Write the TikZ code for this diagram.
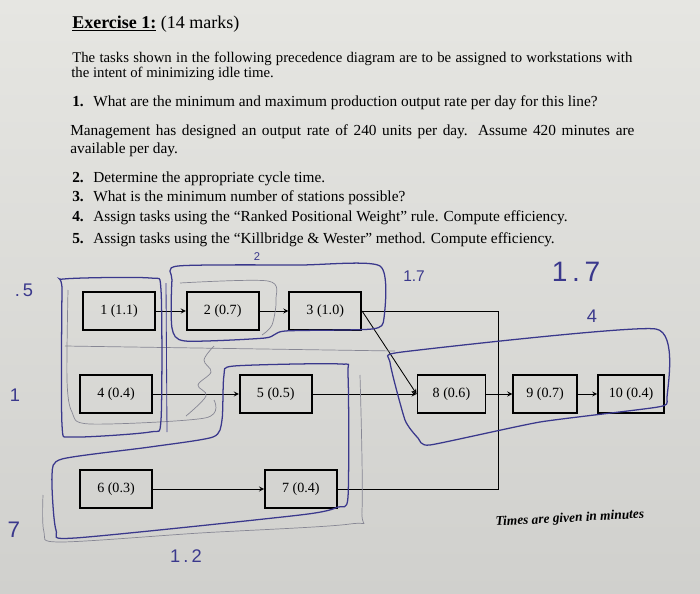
\documentclass[tikz,border=0pt]{standalone}
\usepackage{fontspec}
\setmainfont{Liberation Serif}
\newfontfamily\handfont{Liberation Sans}
\usepackage{tikz}
\usetikzlibrary{arrows, positioning}
\definecolor{paper}{RGB}{230,230,226}
\definecolor{paperdark}{RGB}{208,208,205}
\definecolor{ink}{RGB}{58,56,140}
\definecolor{graphite}{RGB}{135,135,148}

\begin{document}
\begin{tikzpicture}[
    x=0.025cm, y=-0.025cm,
    txt/.style={anchor=base west, inner sep=0pt, font=\fontsize{10.9}{12}\selectfont},
    task/.style={rectangle, draw=black, line width=1.2pt, minimum width=1.8cm, minimum height=0.95cm, inner sep=2pt, font=\fontsize{10}{11}\selectfont},
    arrow/.style={semithick,->,>=stealth},
    link/.style={semithick},
    station/.style={draw=ink, line width=0.9pt},
    pencil/.style={draw=graphite, line width=0.5pt},
    hand/.style={text=ink, font=\handfont\fontsize{11}{12}\selectfont}
]
    % paper
    \shade[top color=paper, bottom color=paperdark] (0,0) rectangle (700,594);
    \useasboundingbox (0,0) rectangle (700,594);

    % exercise text
    \node[txt, font=\fontsize{12.8}{14}\selectfont] (title) at (72,28) {\textbf{\underline{Exercise 1:}} (14 marks)};
    \node[txt, font=\fontsize{10.5}{12}\selectfont] (intro1) at (72,62) {\makebox[14cm][s]{The tasks shown in the following precedence diagram are to be assigned to workstations with}};
    \node[txt, font=\fontsize{10.5}{12}\selectfont] (intro2) at (71,77) {the intent of minimizing idle time.};
    \node[txt] (q1n) at (72,106) {\textbf{1.}};
    \node[txt] (q1) at (93,106) {What are the minimum and maximum production output rate per day for this line?};
    \node[txt] (mgmt1) at (70,135) {\makebox[14.1cm][s]{Management has designed an output rate of 240 units per day. Assume 420 minutes are}};
    \node[txt] (mgmt2) at (70,153) {available per day.};
    \node[txt] (q2n) at (72,182) {\textbf{2.}};
    \node[txt] (q2) at (93,182) {Determine the appropriate cycle time.};
    \node[txt] (q3n) at (72,201) {\textbf{3.}};
    \node[txt] (q3) at (93,201) {What is the minimum number of stations possible?};
    \node[txt] (q4n) at (72,221) {\textbf{4.}};
    \node[txt] (q4) at (93,221) {Assign tasks using the ``Ranked Positional Weight'' rule. Compute efficiency.};
    \node[txt] (q5n) at (72,243) {\textbf{5.}};
    \node[txt] (q5) at (93,243) {Assign tasks using the ``Killbridge \& Wester'' method. Compute efficiency.};

    % precedence diagram
    \node[task] (t1) at (119,311) {1 (1.1)};
    \node[task, right=0.75cm of t1] (t2) {2 (0.7)};
    \node[task, right=0.72cm of t2] (t3) {3 (1.0)};
    \node[task] (t4) at (116,394) {4 (0.4)};
    \node[task, right=2.15cm of t4] (t5) {5 (0.5)};
    \node[task, minimum width=1.7cm, right=2.6cm of t5] (t8) {8 (0.6)};
    \node[task, minimum width=1.6cm, right=0.65cm of t8] (t9) {9 (0.7)};
    \node[task, minimum width=1.65cm, right=0.48cm of t9] (t10) {10 (0.4)};
    \node[task] (t6) at (116,489) {6 (0.3)};
    \node[task, right=2.78cm of t6] (t7) {7 (0.4)};
    \coordinate (jx) at (498,0);

    \draw [arrow] (t1) -- (t2);
    \draw [arrow] (t2) -- (t3);
    \draw [arrow] (t3.east) -- (t8.west);
    \draw [link] (t3.east) -- (t3.east -| jx) -- (t7.east -| jx) -- (t7.east);
    \draw [arrow] (t4) -- (t5);
    \draw [arrow] (t5) -- (t8);
    \draw [arrow] (t8) -- (t9);
    \draw [arrow] (t9) -- (t10);
    \draw [arrow] (t6) -- (t7);

    \node[anchor=base, inner sep=0pt, rotate=3, font=\bfseries\itshape\fontsize{9.5}{11}\selectfont] (note) at (570,522) {Times are given in minutes};

    % pencil marks
    \draw[pencil] (65,346) -- (395,351);
    \draw[pencil] plot[smooth, tension=0.5] coordinates {(360,375) (362,510) (350,524) (200,533) (60,542) (44,532) (43,495)};
    \draw[pencil] plot[smooth, tension=0.5] coordinates {(180,283) (268,281) (276,300) (272,325) (262,335)};
    \draw[pencil] plot[smooth, tension=0.6] coordinates {(214,346) (204,360) (211,372) (198,385) (206,396) (186,416)};
    \draw[pencil] plot[smooth, tension=0.5] coordinates {(68,290) (67,380) (72,412) (90,424) (205,418) (214,400)};

    % stations
    \draw[station] plot[smooth cycle, tension=0.4] coordinates {(64,279) (150,278) (161,290) (161,420) (150,432) (72,437) (62,425) (62,290)};
    \draw[station, line width=0.6pt] (166,283) -- (167,432);
    \draw[station] plot[smooth cycle, tension=0.4] coordinates {(178,266) (300,265) (380,266) (384,318) (372,329) (285,331) (265,338) (185,341) (172,328) (172,280)};
    \draw[station] plot[smooth cycle, tension=0.4] coordinates {(52,475) (62,459) (150,447) (213,437) (222,420) (224,375) (234,366) (340,364) (348,375) (348,497) (338,507) (300,515) (75,538) (56,530)};
    \draw[station] plot[smooth cycle, tension=0.3] coordinates {(390,362) (402,352) (656,329) (667,398) (658,407) (540,422) (430,445) (418,438) (405,420)};

    % handwritten notes
    \node[hand, font=\handfont\fontsize{8}{9}\selectfont] (h2) at (257,257) {2};
    \node[hand] (h17a) at (414,276) {1.7};
    \node[hand, font=\handfont\fontsize{20}{22}\selectfont] (h17b) at (576,272) {1\,.\,7};
    \node[hand, font=\handfont\fontsize{13}{14}\selectfont] (h4) at (592,316) {4};
    \node[hand, font=\handfont\fontsize{13}{14}\selectfont] (h5) at (24,290) {.\,5};
    \node[hand, font=\handfont\fontsize{13}{14}\selectfont] (h1) at (15,395) {1};
    \node[hand, font=\handfont\fontsize{16}{17}\selectfont] (h7) at (14,530) {7};
    \node[hand, font=\handfont\fontsize{13}{14}\selectfont] (h12) at (186,556) {1\,.\,2};
\end{tikzpicture}
\end{document}
